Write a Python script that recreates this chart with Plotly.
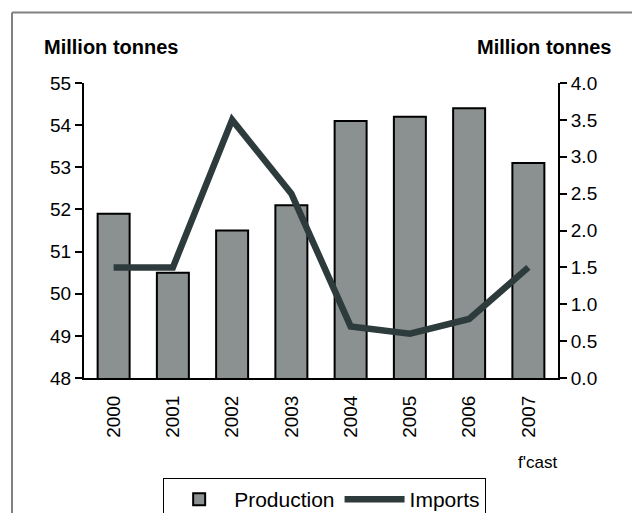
import plotly.graph_objects as go

years = ["2000", "2001", "2002", "2003", "2004", "2005", "2006", "2007"]
production = [51.9, 50.5, 51.5, 52.1, 54.1, 54.2, 54.4, 53.1]
imports = [1.5, 1.5, 3.5, 2.5, 0.7, 0.6, 0.8, 1.5]

FONT = "Liberation Sans, Arial, sans-serif"

fig = go.Figure()
fig.add_trace(go.Bar(
    x=years, y=production, name="Production",
    marker=dict(color="#8b9191", line=dict(color="#000000", width=2)),
    width=0.54, yaxis="y",
))
fig.add_trace(go.Scatter(
    x=years, y=imports, name="Imports", mode="lines",
    line=dict(color="#2e3b3c", width=6.5), yaxis="y2",
))

fig.update_layout(
    width=632, height=513,
    margin=dict(l=84, r=74, t=83, b=135, autoexpand=False),
    paper_bgcolor="white", plot_bgcolor="white",
    font=dict(family=FONT, size=19, color="#000000"),
    showlegend=True,
    legend=dict(
        orientation="h", x=0.167, y=-0.339, xanchor="left", yanchor="top",
        bordercolor="#000000", borderwidth=1, font=dict(size=21),
        traceorder="normal", itemwidth=60, tracegroupgap=0,
    ),
    bargap=0.46,
    xaxis=dict(
        type="category", tickangle=-90, showline=True, linecolor="#000000",
        linewidth=2, ticks="outside", ticklen=8, tickcolor="rgba(0,0,0,0)",
        showgrid=False, tickfont=dict(size=19),
    ),
    yaxis=dict(
        range=[48, 55], dtick=1, showline=True, linecolor="#000000",
        linewidth=2, ticks="outside", ticklen=7, tickwidth=2,
        tickcolor="#000000", showgrid=False, zeroline=False,
    ),
    yaxis2=dict(
        range=[0, 4], dtick=0.5, tickformat=".1f", overlaying="y",
        side="right", showline=True, linecolor="#000000", linewidth=2,
        ticks="outside", ticklen=7, tickwidth=2, tickcolor="#000000",
        showgrid=False, zeroline=False,
    ),
    annotations=[
        dict(text="<b>Million tonnes</b>", xref="paper", yref="paper",
             x=-0.0886, y=1.122, xanchor="left", yanchor="middle",
             showarrow=False, font=dict(size=20)),
        dict(text="<b>Million tonnes</b>", xref="paper", yref="paper",
             x=1.116, y=1.122, xanchor="right", yanchor="middle",
             showarrow=False, font=dict(size=20)),
        dict(text="f'cast", xref="paper", yref="paper",
             x=0.956, y=-0.288, xanchor="center", yanchor="middle",
             showarrow=False, font=dict(size=17)),
    ],
    shapes=[
        dict(type="line", xref="paper", yref="paper",
             x0=-0.1519, x1=1.2, y0=1.239, y1=1.239,
             line=dict(color="#808080", width=2)),
        dict(type="line", xref="paper", yref="paper",
             x0=-0.1519, x1=-0.1519, y0=1.239, y1=-0.46,
             line=dict(color="#808080", width=2)),
    ],
)

fig.write_html("out.html")
